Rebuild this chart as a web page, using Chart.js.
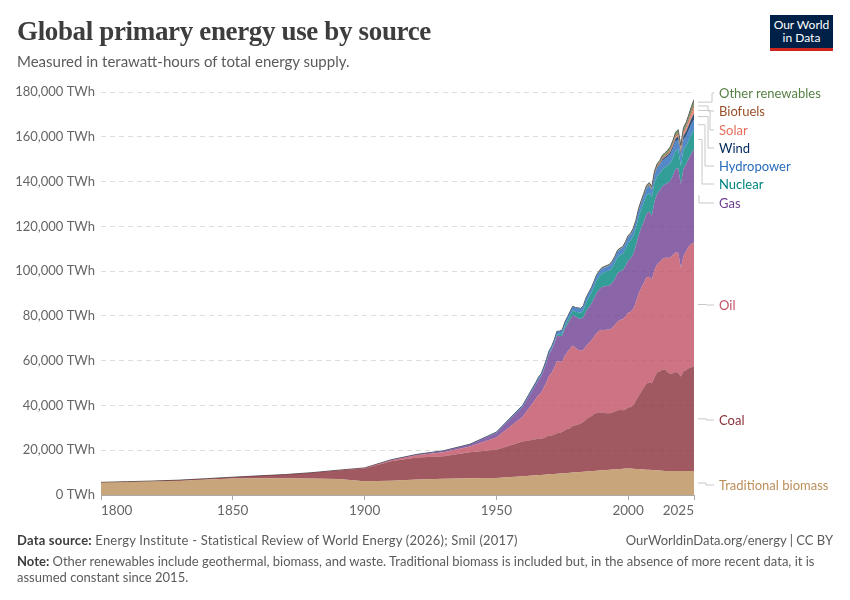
<!DOCTYPE html>
<html lang="en">
<head>
<meta charset="UTF-8">
<title>Global primary energy use by source</title>
<script src="https://cdn.jsdelivr.net/npm/chart.js"></script>
<style>
    body, html {
        margin: 0;
        padding: 0;
        background: #fff;
        font-family: Lato, 'Open Sans', sans-serif;
    }
    .page {
        position: relative;
        width: 850px;
        height: 600px;
        overflow: hidden;
    }
    canvas {
        position: absolute;
        left: 0;
        top: 0;
    }
    h1 {
        position: absolute;
        left: 17px;
        top: 16px;
        margin: 0;
        font-family: 'Liberation Serif', 'DejaVu Serif', serif;
        font-weight: bold;
        font-size: 27px;
        color: #3d3d3d;
        letter-spacing: -0.35px;
    }
    .subtitle {
        position: absolute;
        left: 17px;
        top: 52px;
        font-size: 15px;
        color: #5b5b5b;
    }
    .logo {
        position: absolute;
        left: 770px;
        top: 15px;
        width: 63px;
        height: 30px;
        background: #002147;
        border-bottom: 3px solid #ce261e;
        color: #fff;
        font-size: 12px;
        line-height: 13px;
        text-align: center;
        padding-top: 3px;
    }
    .series-label {
        position: absolute;
        left: 719px;
        font-size: 13px;
        line-height: 16px;
        white-space: nowrap;
        transform: translateY(-50%);
    }
    .footer {
        position: absolute;
        left: 17px;
        font-size: 13px;
        color: #5b5b5b;
        white-space: nowrap;
    }
    .footer b { color: #3d3d3d; font-weight: bold; }
</style>
</head>
<body>
<div class="page">
    <canvas id="chart" width="850" height="600"></canvas>
    <h1>Global primary energy use by source</h1>
    <div class="subtitle">Measured in terawatt-hours of total energy supply.</div>
    <div class="logo">Our World<br>in Data</div>
    <div id="labels"></div>
    <div class="footer" style="top:532px; letter-spacing:0.2px;"><b>Data source:</b> Energy Institute - Statistical Review of World Energy (2026); Smil (2017)</div>
    <div class="footer" style="top:532px; left:auto; right:17px;">OurWorldinData.org/energy | CC BY</div>
    <div class="footer" style="top:553px;"><b>Note:</b> Other renewables include geothermal, biomass, and waste. Traditional biomass is included but, in the absence of more recent data, it is</div>
    <div class="footer" style="top:569px;">assumed constant since 2015.</div>
</div>
<script>
    // Years: decadal (Smil) up to 1960, then annual (Energy Institute) 1965-2025
    const years = [1800, 1810, 1820, 1830, 1840, 1850, 1860, 1870, 1880, 1890, 1900, 1910, 1920, 1930, 1940, 1950, 1960];
    for (let y = 1965; y <= 2025; y++) years.push(y);

    // Values in TWh
    const tradBiomass = [5560, 5830, 6110, 6390, 6940, 7400, 7500, 7500, 7400, 7100, 6110, 6390, 6940, 7220, 7500, 7600, 8400,
        8800, 8890, 8980, 9060, 9150, 9240, 9330, 9420, 9500, 9590,
        9680, 9770, 9850, 9940, 10030, 10120, 10200, 10290, 10380, 10470,
        10560, 10640, 10730, 10820, 10910, 11000, 11080, 11170, 11260, 11350,
        11440, 11520, 11610, 11700, 11790, 11880, 11800, 11720, 11640, 11560,
        11480, 11400, 11320, 11240, 11160, 11080, 11000, 10920, 10840, 10760,
        10680, 10680, 10680, 10680, 10680, 10680, 10680, 10680, 10680, 10680,
        10680];
    const coal = [97, 128, 153, 264, 356, 569, 1061, 1642, 2542, 3856, 5728, 8656, 9833, 10125, 11586, 12603, 15442,
        16100, 16400, 16000, 16400, 16900, 17300, 17300, 17500, 18100, 18200,
        18500, 19200, 19700, 19900, 20800, 21000, 21300, 21600, 22200, 23100,
        24100, 24500, 25300, 25800, 26100, 25900, 25500, 25300, 25300, 25500,
        25900, 26300, 26300, 26100, 26400, 27200, 27500, 28400, 30700, 32700,
        34800, 36600, 38500, 39100, 38800, 41400, 43800, 44200, 45200, 45300,
        44300, 43400, 43700, 44300, 43900, 42200, 44600, 45100, 45900, 46400,
        46700];
    const oil = [0, 0, 0, 0, 0, 0, 0, 6, 33, 86, 181, 494, 1111, 1764, 2553, 5444, 11097,
        18100, 19400, 20700, 22400, 24300, 26700, 28000, 30000, 32300, 31700,
        31400, 33300, 34400, 35600, 35900, 34600, 33400, 32500, 32300, 32900,
        33000, 33900, 34500, 35600, 36200, 36900, 37000, 37400, 37200, 38000,
        38700, 39600, 40400, 40700, 41600, 42300, 42600, 43100, 44000, 45700,
        46300, 46800, 47400, 47100, 46300, 48000, 48300, 48900, 49400, 49900,
        51000, 51900, 52800, 53300, 53600, 48500, 51400, 53100, 54400, 55000,
        55400];
    const gas = [0, 0, 0, 0, 0, 0, 0, 0, 0, 33, 64, 147, 233, 553, 867, 2092, 4472,
        6300, 6800, 7300, 8000, 8800, 9600, 10200, 10700, 11200, 11400,
        11500, 12100, 12400, 12900, 13700, 14000, 14200, 14200, 14400, 15500,
        16000, 16300, 17100, 17900, 18600, 19100, 19500, 19600, 19900, 20000,
        20600, 21600, 21600, 21900, 22500, 23400, 23800, 24500, 25200, 26100,
        26800, 27500, 28500, 29200, 28500, 30600, 31300, 32100, 32500, 32700,
        33400, 34300, 35500, 37300, 37800, 37400, 39200, 38900, 39300, 40500,
        41700];
    const nuclear = [0, 0, 0, 0, 0, 0, 0, 0, 0, 0, 0, 0, 0, 0, 0, 0, 10,
        80, 100, 120, 160, 190, 240, 330, 460, 610, 790,
        1120, 1300, 1610, 1940, 2060, 2150, 2550, 2790, 3180, 3880,
        4480, 4850, 5240, 5670, 5820, 6060, 6360, 6420, 6640, 6820,
        7060, 7300, 7270, 7390, 7670, 7820, 8030, 8180, 8000, 8360,
        8390, 8510, 8330, 8300, 8180, 8360, 8030, 7480, 7550, 7700,
        7790, 7910, 8000, 8180, 8480, 8180, 8480, 8120, 8300, 8550,
        8670];
    const hydro = [0, 0, 0, 0, 0, 0, 0, 0, 0, 5, 15, 36, 64, 128, 192, 342, 688,
        920, 980, 1000, 1050, 1110, 1170, 1220, 1270, 1300, 1420,
        1430, 1450, 1490, 1590, 1660, 1720, 1740, 1790, 1860, 1920,
        1970, 2010, 2040, 2090, 2090, 2150, 2210, 2210, 2320, 2360,
        2480, 2520, 2560, 2590, 2610, 2650, 2600, 2640, 2650, 2800,
        2900, 3000, 3060, 3200, 3240, 3440, 3500, 3660, 3790, 3880,
        3880, 4030, 4070, 4180, 4230, 4350, 4290, 4350, 4240, 4450,
        4480];
    const wind = [0, 0, 0, 0, 0, 0, 0, 0, 0, 0, 0, 0, 0, 0, 0, 0, 0,
        0, 0, 0, 0, 0, 0, 0, 0, 0, 0,
        0, 0, 0, 0, 0, 0, 0, 0, 0, 0,
        0, 0, 0, 1, 2, 4, 4, 5, 6, 7,
        8, 12, 12, 16, 21, 31, 38, 52, 63, 85,
        104, 133, 171, 221, 277, 346, 437, 524, 645, 712,
        832, 962, 1140, 1270, 1420, 1600, 1850, 2100, 2330, 2500,
        2800];
    const solar = [0, 0, 0, 0, 0, 0, 0, 0, 0, 0, 0, 0, 0, 0, 0, 0, 0,
        0, 0, 0, 0, 0, 0, 0, 0, 0, 0,
        0, 0, 0, 0, 0, 0, 0, 0, 0, 0,
        0, 0, 0, 0, 0, 0, 0, 0, 0, 0,
        0, 0, 0, 1, 1, 1, 1, 2, 2, 3,
        4, 6, 8, 12, 20, 34, 65, 100, 138, 190,
        256, 329, 445, 580, 700, 850, 1030, 1310, 1640, 2130,
        2700];
    const biofuels = [0, 0, 0, 0, 0, 0, 0, 0, 0, 0, 0, 0, 0, 0, 0, 0, 0,
        0, 0, 0, 0, 0, 0, 0, 0, 0, 0,
        0, 0, 0, 0, 0, 0, 0, 0, 0, 0,
        20, 30, 40, 45, 50, 70, 75, 80, 85, 85,
        90, 95, 100, 105, 105, 110, 120, 140, 170, 180,
        220, 280, 360, 460, 520, 590, 600, 610, 660, 710,
        740, 760, 800, 870, 930, 860, 920, 1000, 1100, 1200,
        1250];
    const otherRenewables = [0, 0, 0, 0, 0, 0, 0, 0, 0, 0, 0, 0, 0, 0, 0, 0, 0,
        60, 65, 70, 75, 80, 90, 95, 100, 110, 115,
        120, 130, 140, 150, 155, 160, 180, 200, 220, 240,
        250, 270, 290, 310, 330, 350, 360, 370, 380, 400,
        420, 440, 450, 460, 480, 500, 510, 530, 550, 580,
        600, 640, 680, 720, 760, 800, 860, 920, 980, 1040,
        1100, 1180, 1260, 1350, 1450, 1500, 1620, 1740, 1860, 2000,
        2200];

    const xTicks = [1800, 1850, 1900, 1950, 2000, 2025];

    // bottom to top; labelY / elbowX are page positions of the right-hand labels
    const series = [
        { name: 'Traditional biomass', values: tradBiomass, color: '#BC8E5A', labelY: 485, elbowX: 706 },
        { name: 'Coal', values: coal, color: '#883039', labelY: 420, elbowX: 706 },
        { name: 'Oil', values: oil, color: '#C15065', labelY: 305, elbowX: 706 },
        { name: 'Gas', values: gas, color: '#6D3E91', labelY: 203, elbowX: 699 },
        { name: 'Nuclear', values: nuclear, color: '#00847E', labelY: 184, elbowX: 702 },
        { name: 'Hydropower', values: hydro, color: '#286BBB', labelY: 166, elbowX: 705 },
        { name: 'Wind', values: wind, color: '#00295B', labelY: 148, elbowX: 708 },
        { name: 'Solar', values: solar, color: '#E56E5A', labelY: 130, elbowX: 710 },
        { name: 'Biofuels', values: biofuels, color: '#9A5129', labelY: 111, elbowX: 708 },
        { name: 'Other renewables', values: otherRenewables, color: '#578145', labelY: 93, elbowX: 712 }
    ];

    function hexToRgba(hex, a) {
        const n = parseInt(hex.slice(1), 16);
        return `rgba(${(n >> 16) & 255}, ${(n >> 8) & 255}, ${n & 255}, ${a})`;
    }

    const labelBox = document.getElementById('labels');
    series.forEach(s => {
        const div = document.createElement('div');
        div.className = 'series-label';
        div.style.top = s.labelY + 'px';
        div.style.color = s.color;
        div.textContent = s.name;
        labelBox.appendChild(div);
    });

    const datasets = series.map((s, i) => ({
        label: s.name,
        data: years.map((yr, k) => ({ x: yr, y: s.values[k] })),
        backgroundColor: hexToRgba(s.color, 0.8),
        borderColor: i === series.length - 1 ? '#5e5e5e' : 'rgba(0,0,0,0)',
        borderWidth: i === series.length - 1 ? 1 : 0.5,
        fill: i === 0 ? 'origin' : '-1',
        pointRadius: 0,
        tension: 0
    }));

    // connector lines from the middle of each band at the last year to its label
    const connectors = {
        id: 'connectors',
        afterDatasetsDraw(chart) {
            const ctx = chart.ctx;
            const yScale = chart.scales.y;
            const right = chart.chartArea.right;
            ctx.save();
            ctx.strokeStyle = '#c8c8c8';
            ctx.lineWidth = 1;
            let prevTop = yScale.getPixelForValue(0);
            series.forEach((s, i) => {
                const meta = chart.getDatasetMeta(i);
                const top = meta.data[meta.data.length - 1].y;
                const mid = (top + prevTop) / 2;
                prevTop = top;
                ctx.beginPath();
                ctx.moveTo(right + 4, mid);
                ctx.lineTo(s.elbowX, mid);
                ctx.lineTo(s.elbowX, s.labelY);
                ctx.lineTo(right + 20, s.labelY);
                ctx.stroke();
            });
            ctx.restore();
        }
    };

    new Chart(document.getElementById('chart'), {
        type: 'line',
        data: { datasets },
        options: {
            responsive: false,
            animation: false,
            events: [],
            layout: { padding: { top: 92, right: 156, bottom: 70, left: 0 } },
            plugins: {
                legend: { display: false },
                tooltip: { enabled: false }
            },
            scales: {
                x: {
                    type: 'linear',
                    min: 1800,
                    max: 2025,
                    afterBuildTicks: scale => { scale.ticks = xTicks.map(v => ({ value: v })); },
                    afterFit: scale => { scale.height = 35; },
                    grid: { drawOnChartArea: false, drawTicks: true, tickLength: 5, color: '#aaa' },
                    border: { display: true, color: '#aaa' },
                    ticks: {
                        align: 'inner',
                        maxRotation: 0,
                        padding: 3,
                        color: '#666',
                        font: { family: 'Lato', size: 13.5 },
                        callback: v => String(v)
                    }
                },
                y: {
                    stacked: true,
                    min: 0,
                    max: 180000,
                    afterFit: scale => { scale.width = 101; },
                    grid: {
                        drawTicks: false,
                        color: c => c.tick.value === 0 ? 'rgba(0,0,0,0)' : '#dcdcdc'
                    },
                    border: { display: false, dash: [5, 4] },
                    ticks: {
                        stepSize: 20000,
                        padding: 6,
                        color: '#666',
                        font: { family: 'Lato', size: 13 },
                        callback: v => v.toLocaleString('en-US') + ' TWh'
                    }
                }
            }
        },
        plugins: [connectors]
    });
</script>
</body>
</html>
